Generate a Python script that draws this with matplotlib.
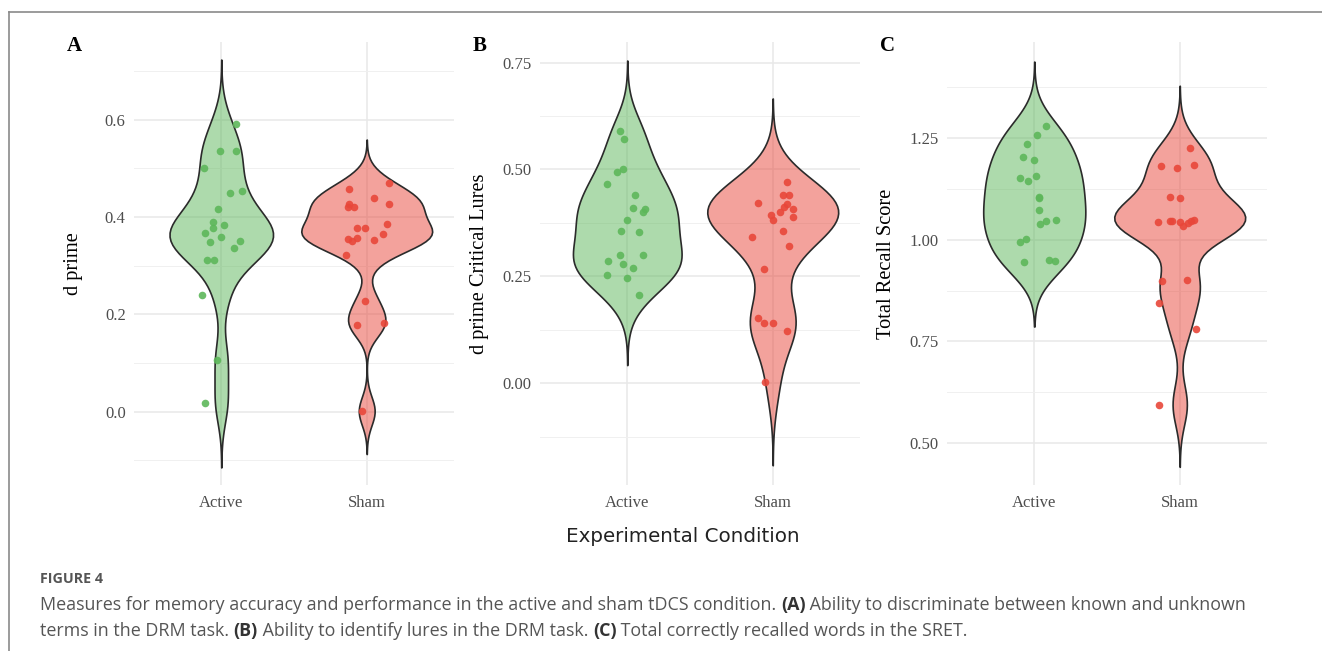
import numpy as np
import pandas as pd
import matplotlib
matplotlib.use("Agg")
import matplotlib.pyplot as plt
import seaborn as sns
from matplotlib.colors import to_rgba

# ---- data ----
conditions = ["Active", "Sham"]

a_active = [0.591, 0.536, 0.536, 0.500, 0.450, 0.453, 0.416, 0.389, 0.384, 0.377,
            0.367, 0.359, 0.348, 0.351, 0.337, 0.312, 0.312, 0.240, 0.107, 0.018]
a_active_jit = [0.10, -0.01, 0.10, -0.12, 0.06, 0.14, -0.02, -0.06, 0.02, -0.06,
                -0.11, 0.00, -0.08, 0.13, 0.09, -0.10, -0.05, -0.13, -0.03, -0.11]
a_sham = [0.457, 0.471, 0.440, 0.427, 0.427, 0.421, 0.421, 0.386, 0.378, 0.378,
          0.366, 0.354, 0.350, 0.356, 0.352, 0.321, 0.227, 0.179, 0.182, 0.001]
a_sham_jit = [-0.12, 0.15, 0.05, -0.12, 0.15, -0.09, -0.13, 0.14, -0.07, -0.01,
              0.11, -0.13, -0.10, -0.07, 0.05, -0.14, -0.01, -0.07, 0.12, -0.03]

b_active = [0.591, 0.571, 0.500, 0.495, 0.467, 0.440, 0.409, 0.408, 0.401, 0.381,
            0.357, 0.353, 0.301, 0.299, 0.287, 0.279, 0.270, 0.252, 0.246, 0.206]
b_active_jit = [-0.05, -0.02, -0.03, -0.07, -0.14, 0.05, 0.04, 0.12, 0.11, 0.00,
                -0.04, 0.08, -0.05, 0.11, -0.13, -0.03, 0.04, -0.14, 0.00, 0.08]
b_sham = [0.471, 0.440, 0.440, 0.421, 0.418, 0.413, 0.407, 0.401, 0.394, 0.382,
          0.388, 0.357, 0.343, 0.322, 0.267, 0.152, 0.141, 0.142, 0.123, 0.003]
b_sham_jit = [0.10, 0.07, 0.11, -0.10, 0.10, 0.08, 0.14, 0.05, -0.01, 0.00,
              0.14, 0.07, -0.14, 0.11, -0.06, -0.10, -0.06, 0.00, 0.10, -0.05]

c_active = [1.279, 1.258, 1.237, 1.203, 1.196, 1.152, 1.157, 1.144, 1.106, 1.103,
            1.073, 1.047, 1.048, 1.038, 1.001, 0.995, 0.946, 0.949, 0.947]
c_active_jit = [0.08, 0.02, -0.05, -0.08, 0.00, -0.10, 0.01, -0.04, 0.03, 0.03,
                0.03, 0.08, 0.15, 0.04, -0.06, -0.10, -0.07, 0.10, 0.14]
c_sham = [1.226, 1.181, 1.184, 1.177, 1.106, 1.104, 1.043, 1.046, 1.046, 1.044,
          1.034, 1.042, 1.047, 1.048, 0.899, 0.902, 0.845, 0.779, 0.594]
c_sham_jit = [0.07, -0.13, 0.10, -0.02, -0.07, 0.00, -0.15, -0.07, -0.05, 0.00,
              0.02, 0.06, 0.08, 0.10, -0.12, 0.05, -0.14, 0.11, -0.14]

panels = [
    ("A", "d prime", a_active, a_active_jit, a_sham, a_sham_jit,
     [0.0, 0.2, 0.4, 0.6], ["0.0", "0.2", "0.4", "0.6"], [-0.1, 0.1, 0.3, 0.5, 0.7]),
    ("B", "d prime Critical Lures", b_active, b_active_jit, b_sham, b_sham_jit,
     [0.0, 0.25, 0.5, 0.75], ["0.00", "0.25", "0.50", "0.75"], [-0.125, 0.125, 0.375, 0.625]),
    ("C", "Total Recall Score", c_active, c_active_jit, c_sham, c_sham_jit,
     [0.5, 0.75, 1.0, 1.25], ["0.50", "0.75", "1.00", "1.25"], [0.625, 0.875, 1.125, 1.375]),
]

ylims = [(-0.151, 0.760), (-0.238, 0.798), (0.396, 1.487)]
lefts = [134, 540, 947]
letter_x = [67, 473, 880]
# the Active violins are drawn a bit narrower than the Sham ones in the figure
active_width = [0.79, 0.83, 0.78]

green = "#5DB75A"
red = "#E8473A"
serif = "Liberation Serif"


def nrd0_factor(kde):
    # R's bw.nrd0, expressed as a factor of the sample sd
    x = np.asarray(kde.dataset).ravel()
    sd = np.std(x, ddof=1)
    q75, q25 = np.percentile(x, [75, 25])
    lo = min(sd, (q75 - q25) / 1.34)
    return 0.9 * lo * len(x) ** (-0.2) / sd


W, H = 1322, 651
fig = plt.figure(figsize=(W / 100, H / 100), dpi=100)

for i, (letter, ylab, act, act_j, sham, sham_j, yt, ytl, ymin) in enumerate(panels):
    ax = fig.add_axes([lefts[i] / W, 1 - 485 / H, 320 / W, 443 / H])
    df = pd.DataFrame({
        "cond": ["Active"] * len(act) + ["Sham"] * len(sham),
        "val": act + sham,
    })
    sns.violinplot(data=df, x="cond", y="val", hue="cond", order=conditions,
                   hue_order=conditions, palette=[green, red], saturation=1,
                   inner=None, cut=3, bw_method=nrd0_factor, density_norm="area",
                   width=0.9, linewidth=1.2, linecolor="#2b2b2b", legend=False,
                   ax=ax, zorder=2)
    fills = [green, red]
    for k, coll in enumerate(ax.collections):
        coll.set_facecolor(to_rgba(fills[k % 2], 0.5))
        coll.set_edgecolor("#2b2b2b")
        if k == 0:
            for p in coll.get_paths():
                p.vertices[:, 0] *= active_width[i]

    ax.scatter(np.array(act_j), act, s=30, color=green, alpha=0.9,
               linewidths=0, zorder=3)
    ax.scatter(1 + np.array(sham_j), sham, s=30, color=red, alpha=0.9,
               linewidths=0, zorder=3)

    ax.set_xlim(-0.6, 1.6)
    ax.set_ylim(*ylims[i])
    ax.set_yticks(yt)
    ax.set_yticklabels(ytl)
    ax.set_yticks(ymin, minor=True)
    ax.set_xticks([0, 1])
    ax.set_xticklabels(conditions)
    ax.tick_params(which="both", length=0)
    ax.tick_params(axis="y", pad=6)
    ax.tick_params(axis="x", pad=7)
    for lab in ax.get_xticklabels() + ax.get_yticklabels():
        lab.set_fontfamily(serif)
        lab.set_fontsize(12)
        lab.set_color("#4d4d4d")
    ax.grid(which="major", color="#e8e8e8", linewidth=1.1, zorder=0)
    ax.grid(which="minor", axis="y", color="#f0f0f0", linewidth=0.7, zorder=0)
    ax.set_axisbelow(True)
    for sp in ax.spines.values():
        sp.set_visible(False)
    ax.set_xlabel("")
    ax.set_ylabel(ylab, fontfamily=serif, fontsize=14.7, color="black")
    ax.yaxis.set_label_coords(-0.16, 0.5)

    fig.text(letter_x[i] / W, 1 - 46 / H, letter, fontfamily=serif,
             fontweight="bold", fontsize=15, ha="left", va="center")

fig.text(683 / W, 1 - 537 / H, "Experimental Condition", fontfamily="DejaVu Sans",
         fontsize=14.3, color="#222222", ha="center", va="center")

# frame lines of the figure box
fig.add_artist(plt.Line2D([9 / W, 1], [1 - 12 / H, 1 - 12 / H], color="#8a8a8a",
                          linewidth=1.2, transform=fig.transFigure))
fig.add_artist(plt.Line2D([9 / W, 9 / W], [1 - 12 / H, 0], color="#8a8a8a",
                          linewidth=1.2, transform=fig.transFigure))

# caption
cap_font = "Open Sans"
fig.text(40 / W, 1 - 579 / H, "FIGURE 4", fontfamily=cap_font, fontweight="bold",
         fontsize=10.3, color="#555555", va="center")

renderer = fig.canvas.get_renderer()


def rich_line(x, y, runs):
    for s, wt in runs:
        t = fig.text(x, y, s, fontfamily=cap_font, fontweight=wt, fontsize=12.85,
                     color="#555555" if wt == "normal" else "#333333", va="center")
        x += t.get_window_extent(renderer).width / W


rich_line(40 / W, 1 - 605 / H, [
    ("Measures for memory accuracy and performance in the active and sham tDCS condition.\u00a0", "normal"),
    ("(A)", "bold"),
    ("\u00a0Ability to discriminate between known and unknown", "normal"),
])
rich_line(40 / W, 1 - 631 / H, [
    ("terms in the DRM task.\u00a0", "normal"),
    ("(B)", "bold"),
    ("\u00a0Ability to identify lures in the DRM task.\u00a0", "normal"),
    ("(C)", "bold"),
    ("\u00a0Total correctly recalled words in the SRET.", "normal"),
])

fig.savefig("out.png", dpi=100)
